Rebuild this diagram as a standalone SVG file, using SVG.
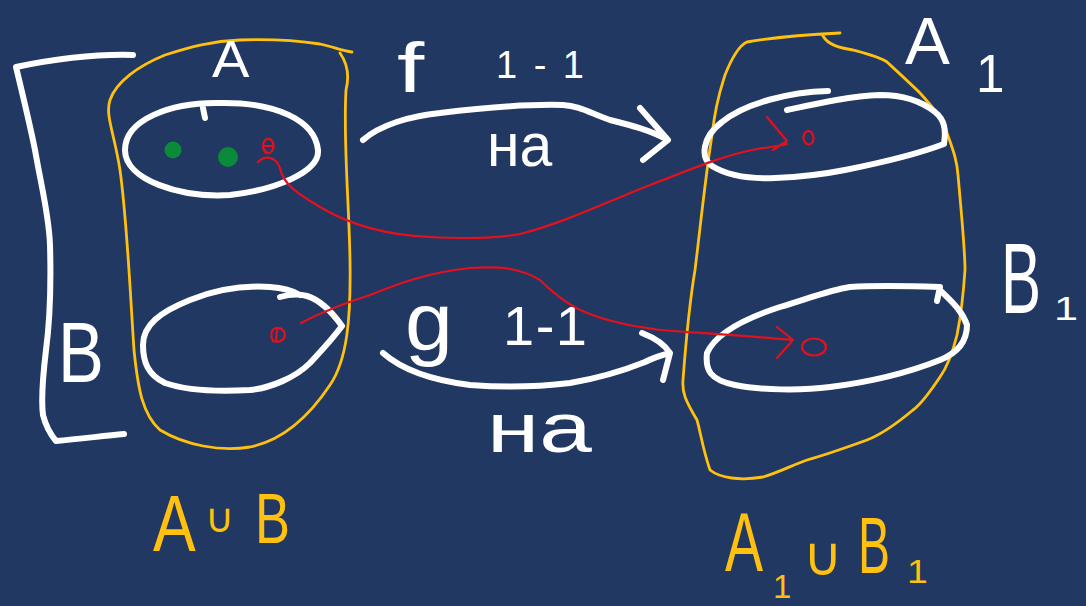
<svg xmlns="http://www.w3.org/2000/svg" width="1086" height="606" viewBox="0 0 1086 606">
  <style>
    .chalk { fill: none; stroke: #ffffff; stroke-width: 6; stroke-linecap: round; stroke-linejoin: round; }
    .gold { fill: none; stroke: #ffc00f; stroke-width: 2.8; stroke-linecap: round; stroke-linejoin: round; }
    .ink { fill: none; stroke: #e3101e; stroke-width: 2.2; stroke-linecap: round; stroke-linejoin: round; }
    .lbl { font-family: "Liberation Sans", "DejaVu Sans", sans-serif; fill: #ffffff; }
    .glbl { font-family: "Liberation Sans", "DejaVu Sans", sans-serif; fill: #ffc00f; }
    .sym { font-family: "DejaVu Sans", sans-serif; fill: #ffc00f; }
  </style>

  <rect width="1086" height="606" fill="#213862"/>

  <!-- domain: A ∪ B -->
  <g id="domain">
    <!-- bracket grouping the two parts -->
    <path class="chalk" d="M133,55 C100,54 60,58 16,67 C24,100 30,125 35,150 C42,190 49,215 50,245 C51,280 50,320 46,350 C43,375 41,400 43,415 C46,427 51,435 56,441 C80,439 102,436 124,434"/>
    <text class="lbl" transform="translate(58,382) scale(0.8,1)" font-size="86">B</text>

    <path class="gold" d="M110,100 C116,82 138,66 165,55 C190,47 212,41 240,40 C270,39 300,41 320,44 C334,47 342,51 352,52 M340,53 C347,63 350,74 346,90 C343,140 349,200 350,260 C351,320 347,360 330,385 C310,415 285,440 250,447 C220,452 185,445 160,430 C143,415 138,390 134,350 C130,290 127,220 120,170 C114,132 105,115 110,100"/>
    <text class="lbl" transform="translate(212,77) scale(1.1,1)" font-size="51">A</text>

    <!-- part A -->
    <g id="part-A">
      <path class="chalk" d="M125,150 C125,120 170,102 220,103 C275,102 315,120 318,150 C320,172 275,190 230,195 C180,198 125,180 125,150 Z M203,108 L205,118"/>
      <circle cx="173" cy="150" r="8.5" fill="#0b8a3a"/>
      <circle cx="228" cy="157" r="10" fill="#0b8a3a"/>
      <path class="ink" d="M266,153 C262,150 262,141 267,139 C273,138 275,146 272,151 C270,154 266,154 265,150 M264,146 L273,146"/>
    </g>

    <!-- part B -->
    <g id="part-B">
      <path class="chalk" d="M143,345 C143,325 160,312 190,300 C215,290 240,285 270,287 C285,288 295,292 300,295 M280,297 C290,294 300,294 307,296 C320,300 332,312 342,326 C330,342 320,352 310,363 C295,378 270,388 250,390 C215,392 185,390 165,383 C148,375 143,362 143,345"/>
      <path class="ink" d="M273,341 C270,336 271,329 276,328 C282,327 287,333 284,338 C282,342 276,342 273,341 M277,330 L276,341"/>
    </g>

    <text class="glbl" transform="translate(153,551) scale(0.8,1)" font-size="80">A</text>
    <text class="sym" x="205" y="532" font-size="40">∪</text>
    <text class="glbl" transform="translate(255,543) scale(0.75,1)" font-size="70">B</text>
  </g>

  <!-- codomain: A1 ∪ B1 -->
  <g id="codomain">
    <path class="gold" d="M747,42 C770,38 800,35 840,33 M823,36 C828,45 840,48 853,50 C868,54 880,57 887,62 C900,74 912,85 920,93 C935,110 944,120 947,133 C953,150 957,160 958,175 C962,220 965,250 965,270 C963,300 960,320 957,335 C952,355 945,370 940,377 C928,395 920,405 913,410 C895,425 880,435 867,440 C845,448 825,455 807,460 C790,466 780,472 763,477 C740,481 720,478 710,470 C703,450 700,430 697,420 C685,400 682,392 683,380 C686,340 690,300 695,270 C700,230 705,180 712,135 C716,100 722,85 725,75 C733,55 740,45 747,42"/>

    <g id="part-A1">
      <path class="chalk" d="M828,91 C790,92 745,103 722,122 C702,137 700,158 712,166 C728,176 750,179 775,178 C800,177 820,175 845,170 C880,163 915,155 944,144 C946,130 945,120 935,112 C920,100 900,95 880,95 C850,96 815,104 787,110"/>
      <path class="ink" d="M806,143 C802,140 803,132 808,131 C813,131 815,139 812,143 C810,145 807,145 806,143"/>
      <text class="lbl" transform="translate(905,64) scale(1.02,1)" font-size="66">A</text>
      <text class="lbl" transform="translate(976,92) scale(0.95,1)" font-size="54">1</text>
    </g>

    <g id="part-B1">
      <path class="chalk" d="M707,353 C715,335 740,320 780,307 C810,298 830,290 850,287 C880,285 910,286 940,287 L937,301 M941,291 C950,300 962,310 967,325 C967,340 960,352 940,360 C910,372 870,382 830,387 C800,391 760,390 735,385 C710,380 705,370 707,353"/>
      <ellipse class="ink" cx="814" cy="347" rx="12" ry="8.5"/>
      <text class="lbl" transform="translate(1001,313) scale(0.6,1)" font-size="100">B</text>
      <text class="lbl" transform="translate(1054,320) scale(1.2,0.9)" font-size="36">1</text>
    </g>

    <text class="glbl" transform="translate(725,571) scale(0.68,1)" font-size="84">A</text>
    <text class="glbl" x="773" y="598" font-size="33">1</text>
    <text class="sym" x="803" y="575" font-size="54">∪</text>
    <text class="glbl" transform="translate(858,573) scale(0.6,1)" font-size="80">B</text>
    <text class="glbl" transform="translate(907,583) scale(1.1,1)" font-size="34">1</text>
  </g>

  <!-- mappings f and g -->
  <g id="connectors">
    <g id="map-f">
      <path class="chalk" d="M363,140 C380,125 410,116 440,113 C480,108 520,104 563,105 C580,106 590,113 610,120 C630,125 650,130 668,140 M640,108 L668,140 L643,160"/>
      <text class="lbl" transform="translate(397,92) scale(1.4,1)" font-size="70">f</text>
      <text class="lbl" x="496" y="78" font-size="38" textLength="88" lengthAdjust="spacing">1-1</text>
      <text class="lbl" transform="translate(487,166) scale(0.95,1)" font-size="62">на</text>
      <path class="ink" d="M258,162 C264,156 275,155 280,168 C283,185 300,195 320,207 C345,222 380,235 430,237 C470,239 500,238 520,234 C560,224 600,205 650,185 C690,170 720,156 757,149 C770,147 780,146 787,144 M767,117 L787,141 L773,150"/>
    </g>
    <g id="map-g">
      <path class="chalk" d="M383,353 C400,368 430,380 470,385 C510,388 545,386 570,383 C600,378 625,370 645,362 C655,357 662,355 670,353 M642,333 C655,338 665,345 670,353 L663,380"/>
      <text class="lbl" transform="translate(405,350) scale(1.05,1)" font-size="82">g</text>
      <text class="lbl" x="503" y="345" font-size="56" textLength="84" lengthAdjust="spacing">1-1</text>
      <text class="lbl" transform="translate(487,452) scale(1.35,1)" font-size="70">на</text>
      <path class="ink" d="M301,323 C320,313 345,303 370,295 C400,283 430,272 470,268 C500,266 520,268 540,280 C555,295 570,307 590,314 C610,322 630,326 660,330 C700,333 750,336 793,340 M777,327 L793,340 L777,358"/>
    </g>
  </g>
</svg>
